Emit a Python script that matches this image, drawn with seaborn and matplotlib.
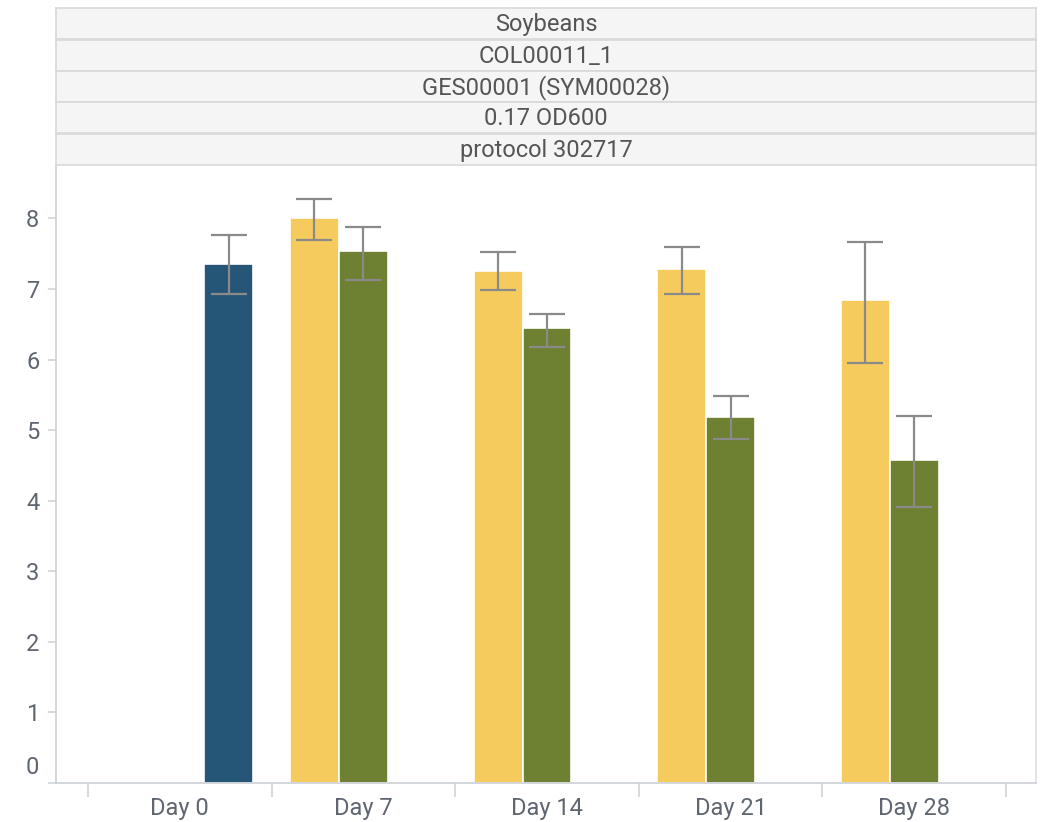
import matplotlib
matplotlib.use("Agg")
import matplotlib.pyplot as plt
import matplotlib.transforms as mtransforms
import numpy as np
import pandas as pd
import seaborn as sns

# ---- data ----
days = ["Day 0", "Day 7", "Day 14", "Day 21", "Day 28"]
groups = ["A", "B", "C"]
vals_a = [np.nan, 8.01, 7.26, 7.28, 6.84]
lo_a = [np.nan, 7.69, 6.99, 6.93, 5.95]
hi_a = [np.nan, 8.27, 7.52, 7.60, 7.66]
vals_b = [np.nan, 7.54, 6.44, 5.19, 4.57]
lo_b = [np.nan, 7.13, 6.18, 4.87, 3.91]
hi_b = [np.nan, 7.88, 6.65, 5.48, 5.20]
vals_c = [7.36, np.nan, np.nan, np.nan, np.nan]
lo_c = [6.93, np.nan, np.nan, np.nan, np.nan]
hi_c = [7.77, np.nan, np.nan, np.nan, np.nan]
strip_labels = ["Soybeans", "COL00011_1", "GES00001 (SYM00028)", "0.17 OD600", "protocol 302717"]
y_ticks = [0, 1, 2, 3, 4, 5, 6, 7, 8]

colors = ["#F6CB5E", "#6E8133", "#255677"]

rows = []
for g, v, lo, hi in zip(groups, [vals_a, vals_b, vals_c], [lo_a, lo_b, lo_c], [hi_a, hi_b, hi_c]):
    for i, d in enumerate(days):
        rows.append({"day": d, "group": g, "value": v[i], "lo": lo[i], "hi": hi[i]})
df = pd.DataFrame(rows).dropna(subset=["value"])

sns.set_theme(style="white")
plt.rcParams["font.family"] = ["Roboto", "DejaVu Sans"]

fig = plt.figure(figsize=(10.43, 8.22), dpi=100)
W, H = 1043, 822
ax = fig.add_axes([56 / W, (H - 783) / H, (1036 - 56) / W, (783 - 165) / H])

sns.barplot(data=df, x="day", y="value", hue="group",
            order=days, hue_order=groups, palette=colors, saturation=1,
            width=0.8, dodge=True, errorbar=None, ax=ax,
            edgecolor="white", linewidth=1.2, legend=False)

# error bars placed on the drawn bars
hue_w = 0.8 / len(groups)
for p in ax.patches:
    h = p.get_height()
    if h is None or np.isnan(h) or h == 0:
        continue
    xc = p.get_x() + p.get_width() / 2
    idx = int(round(xc))
    slot = int(round((xc - idx + 0.4 - hue_w / 2) / hue_w))
    row = df[(df.day == days[idx]) & (df.group == groups[slot])].iloc[0]
    ax.errorbar([xc], [row.value], yerr=[[row.value - row.lo], [row.hi - row.value]],
                fmt="none", ecolor="#8a8a8a", elinewidth=1.6, capsize=13, capthick=1.6, zorder=5)

ax.set_xlim(-0.674, 4.663)
ax.set_ylim(0, 8.756)
ax.set_xlabel("")
ax.set_ylabel("")

tick_col = "#5f6670"
# x ticks: marks at boundaries, labels at centers
ax.set_xticks(np.arange(len(days) + 1) - 0.5)
ax.set_xticklabels([])
ax.set_xticks(np.arange(len(days)), minor=True)
ax.set_xticklabels(days, minor=True)
ax.tick_params(axis="x", which="major", length=10, width=1.2, color="#d0d4da", direction="out", bottom=True)
ax.tick_params(axis="x", which="minor", length=0, pad=10, labelsize=17, labelcolor=tick_col, bottom=True)

ax.set_yticks(y_ticks)
ax.set_yticklabels([str(t) for t in y_ticks])
ax.tick_params(axis="y", length=6, width=1.2, color="#d0d4da", direction="out", left=True,
               labelsize=17, labelcolor=tick_col, pad=6)
# shift the "0" label up like in the reference
lbl0 = ax.get_yticklabels()[0]
lbl0.set_transform(lbl0.get_transform() + mtransforms.ScaledTranslation(0, 18 / 100, fig.dpi_scale_trans))

for s in ["left", "bottom"]:
    ax.spines[s].set_color("#ccd0d6")
    ax.spines[s].set_linewidth(1.2)
ax.spines["right"].set_color("#e0e0e0")
ax.spines["top"].set_visible(False)
ax.grid(False)

# strip headers
tops = [8, 40, 71, 102, 134]
hgt = 31
for t, lab in zip(tops, strip_labels):
    sax = fig.add_axes([56 / W, (H - t - hgt) / H, (1036 - 56) / W, hgt / H])
    sax.set_facecolor("#f5f5f5")
    sax.set_xticks([])
    sax.set_yticks([])
    for s in sax.spines.values():
        s.set_color("#d9d9d9")
        s.set_linewidth(1.2)
    sax.text(0.5, 0.47, lab, ha="center", va="center", fontsize=17, color="#555555",
             transform=sax.transAxes)

fig.savefig("out.png", dpi=100)
